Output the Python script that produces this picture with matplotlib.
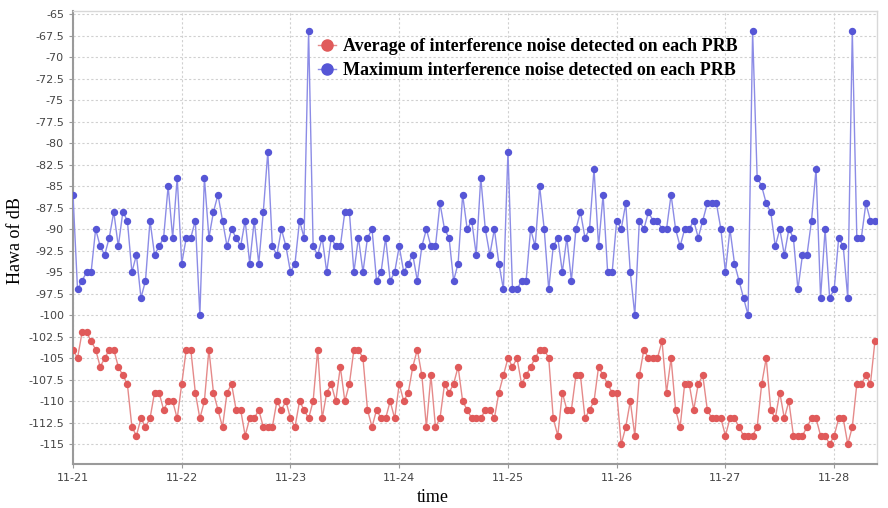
import matplotlib
matplotlib.use("Agg")
import matplotlib.pyplot as plt
import numpy as np

# hourly samples starting at 11-21 00:00
avg_noise = [
    -104, -105, -102, -102, -103, -104, -106, -105, -104, -104, -106, -107, -108, -113, -114, -112,
    -113, -112, -109, -109, -111, -110, -110, -112, -108, -104, -104, -109, -112, -110, -104, -109,
    -111, -113, -109, -108, -111, -111, -114, -112, -112, -111, -113, -113, -113, -110, -111, -110,
    -112, -113, -110, -111, -112, -110, -104, -112, -109, -108, -110, -106, -110, -108, -104, -104,
    -105, -111, -113, -111, -112, -112, -110, -112, -108, -110, -109, -106, -104, -107, -113, -107,
    -113, -112, -108, -109, -108, -106, -110, -111, -112, -112, -112, -111, -111, -112, -109, -107,
    -105, -106, -105, -108, -107, -106, -105, -104, -104, -105, -112, -114, -109, -111, -111, -107,
    -107, -112, -111, -110, -106, -107, -108, -109, -109, -115, -113, -110, -114, -107, -104, -105,
    -105, -105, -103, -109, -105, -111, -113, -108, -108, -111, -108, -107, -111, -112, -112, -112,
    -114, -112, -112, -113, -114, -114, -114, -113, -108, -105, -111, -112, -109, -112, -110, -114,
    -114, -114, -113, -112, -112, -114, -114, -115, -114, -112, -112, -115, -113, -108, -108, -107,
    -108, -103,
]
max_noise = [
    -86, -97, -96, -95, -95, -90, -92, -93, -91, -88, -92, -88, -89, -95, -93, -98,
    -96, -89, -93, -92, -91, -85, -91, -84, -94, -91, -91, -89, -100, -84, -91, -88,
    -86, -89, -92, -90, -91, -92, -89, -94, -89, -94, -88, -81, -92, -93, -90, -92,
    -95, -94, -89, -91, -67, -92, -93, -91, -95, -91, -92, -92, -88, -88, -95, -91,
    -95, -91, -90, -96, -95, -91, -96, -95, -92, -95, -94, -93, -96, -92, -90, -92,
    -92, -87, -90, -91, -96, -94, -86, -90, -89, -93, -84, -90, -93, -90, -94, -97,
    -81, -97, -97, -96, -96, -90, -92, -85, -90, -97, -92, -91, -95, -91, -96, -90,
    -88, -91, -90, -83, -92, -86, -95, -95, -89, -90, -87, -95, -100, -89, -90, -88,
    -89, -89, -90, -90, -86, -90, -92, -90, -90, -89, -91, -89, -87, -87, -87, -90,
    -95, -90, -94, -96, -98, -100, -67, -84, -85, -87, -88, -92, -90, -93, -90, -91,
    -97, -93, -93, -89, -83, -98, -90, -98, -97, -91, -92, -98, -67, -91, -91, -87,
    -89, -89,
]
day_labels = ["11-21", "11-22", "11-23", "11-24", "11-25", "11-26", "11-27", "11-28"]
y_ticks = [-65, -67.5, -70, -72.5, -75, -77.5, -80, -82.5, -85, -87.5, -90, -92.5,
           -95, -97.5, -100, -102.5, -105, -107.5, -110, -112.5, -115]
series_names = ["Average of interference noise detected on each PRB",
                "Maximum interference noise detected on each PRB"]

hours = np.arange(len(max_noise))

fig = plt.figure(figsize=(8.88, 5.08), dpi=100)
ax = fig.add_axes([0.0822, 0.0866, 0.9054, 0.8917])

red_line, red_mark = "#e58a8a", "#e05a5a"
blue_line, blue_mark = "#8c8ce6", "#5656d6"

ax.plot(hours, avg_noise, color=red_line, lw=1.0, marker="o", ms=4.3,
        mfc=red_mark, mec=red_mark, label=series_names[0], zorder=3)
ax.plot(hours, max_noise, color=blue_line, lw=1.0, marker="o", ms=4.3,
        mfc=blue_mark, mec=blue_mark, label=series_names[1], zorder=3)

ax.set_xlim(0, 177.45)
ax.set_ylim(-117.3, -64.65)
ax.set_xticks(np.arange(len(day_labels)) * 24)
ax.set_xticklabels(day_labels)
ax.set_yticks(y_ticks)
ax.set_yticklabels([f"{v:g}" for v in y_ticks])

ax.grid(True, color="#d0d0d0", linestyle=(0, (2, 2)), linewidth=0.8)
ax.set_axisbelow(True)
for s in ["top", "right"]:
    ax.spines[s].set_color("#d8d8d8")
    ax.spines[s].set_linewidth(1.0)
for s in ["left", "bottom"]:
    ax.spines[s].set_color("#9a9a9a")
    ax.spines[s].set_linewidth(1.5)

ax.tick_params(axis="both", labelsize=8, colors="#9a9a9a", labelcolor="#444444",
               length=3, width=0.8)
for lab in ax.get_xticklabels() + ax.get_yticklabels():
    lab.set_family("DejaVu Sans")

ax.set_ylabel("Hawa of dB", family="Liberation Serif", fontsize=13)
ax.yaxis.label.set_va("center")
ax.yaxis.set_label_coords(-0.072, 0.494)
ax.set_xlabel("time", family="Liberation Serif", fontsize=13)
ax.xaxis.label.set_va("center")
ax.xaxis.set_label_coords(0.447, -0.075)

leg = ax.legend(loc="upper left", bbox_to_anchor=(0.287, 0.972), frameon=False,
                prop={"family": "Liberation Serif", "weight": "bold", "size": 13},
                handlelength=1.0, handletextpad=0.35, labelspacing=0.4,
                borderpad=0.3)
for h in leg.legend_handles:
    h.set_linestyle("-")
    h.set_markersize(8)

fig.savefig("out.png", dpi=100)
